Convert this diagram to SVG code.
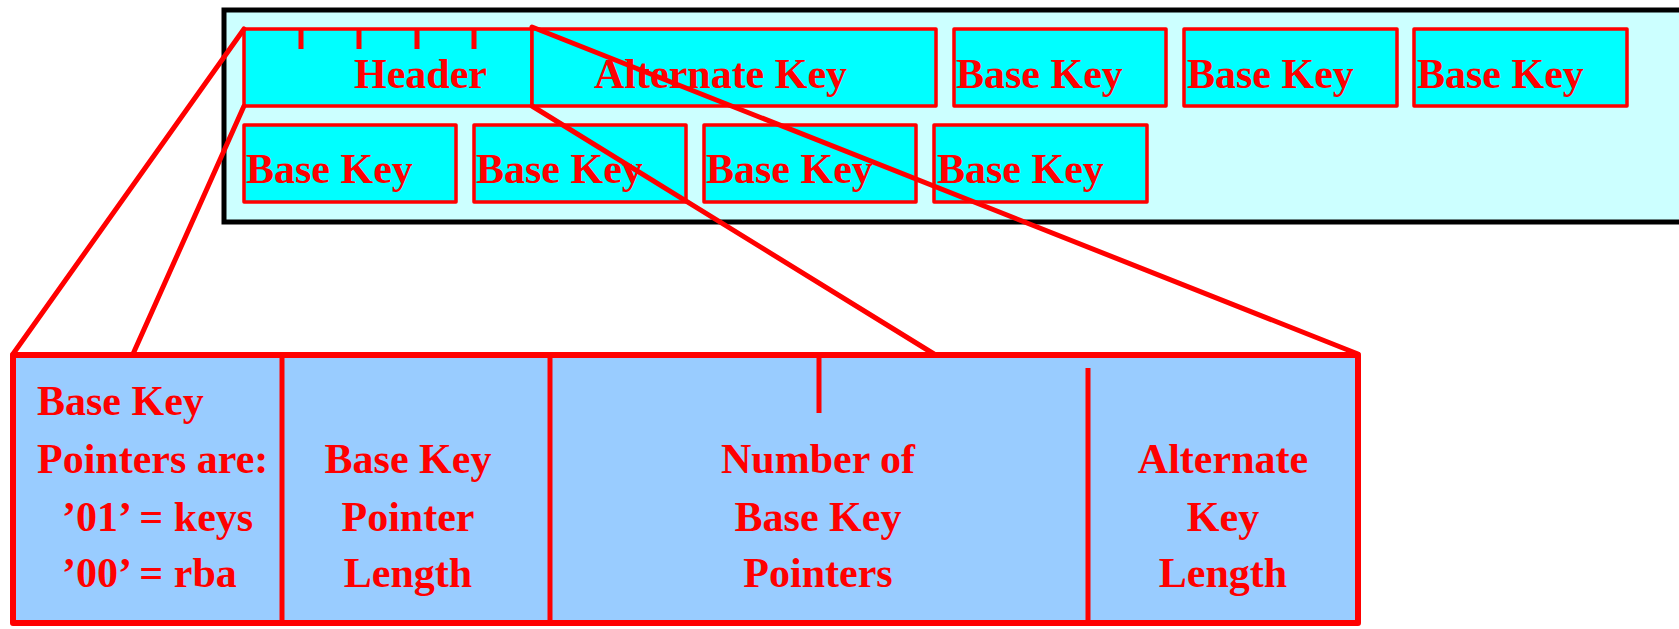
<svg xmlns="http://www.w3.org/2000/svg" width="1679" height="629" viewBox="0 0 1679 629">
<style>
.t{font-family:"Liberation Serif","Times New Roman",serif;font-weight:bold;font-size:42px;fill:#FF0000}
.c{text-anchor:middle}
.k{fill:#00FFFF;stroke:#FF0000;stroke-width:3.5;stroke-linejoin:round}
.ln{stroke:#FF0000;stroke-width:5;fill:none;stroke-linecap:round}
.dv{stroke:#FF0000;stroke-width:5;fill:none}
</style>
<rect width="1679" height="629" fill="#FFFFFF"/>
<g id="record">
<rect x="224" y="10" width="1470" height="212" fill="#CCFFFF" stroke="#000000" stroke-width="5"/>
</g>
<g id="header">
<rect class="k" x="244" y="29" width="288" height="77"/>
<path class="dv" d="M301 29V49M359 29V49M417 29V49M474 29V49" stroke-width="3.5"/>
<text class="t" x="354" y="88">Header</text>
</g>
<g id="altkey">
<rect class="k" x="532" y="29" width="404" height="77"/>
<text class="t" x="594" y="88">Alternate Key</text>
</g>
<g id="bk1"><rect class="k" x="954" y="29" width="212" height="77"/><text class="t" x="956" y="88">Base Key</text></g>
<g id="bk2"><rect class="k" x="1184" y="29" width="213" height="77"/><text class="t" x="1187" y="88">Base Key</text></g>
<g id="bk3"><rect class="k" x="1414" y="29" width="213" height="77"/><text class="t" x="1417" y="88">Base Key</text></g>
<g id="bk4"><rect class="k" x="244" y="125" width="212" height="77"/><text class="t" x="246" y="183">Base Key</text></g>
<g id="bk5"><rect class="k" x="474" y="125" width="212" height="77"/><text class="t" x="476" y="183">Base Key</text></g>
<g id="bk6"><rect class="k" x="704" y="125" width="212" height="77"/><text class="t" x="706" y="183">Base Key</text></g>
<g id="bk7"><rect class="k" x="934" y="125" width="213" height="77"/><text class="t" x="937" y="183">Base Key</text></g>
<g id="connectors">
<line class="ln" x1="244" y1="29" x2="13" y2="354"/>
<line class="ln" x1="244" y1="106" x2="133" y2="354"/>
<line class="ln" x1="532" y1="106" x2="934" y2="354"/>
<line class="ln" x1="532" y1="27" x2="1358" y2="354"/>
</g>
<g id="detail">
<rect x="13" y="355" width="1345" height="268" fill="#99CCFF" stroke="#FF0000" stroke-width="6" stroke-linejoin="round"/>
<line class="dv" x1="282" y1="355" x2="282" y2="623"/>
<line class="dv" x1="550" y1="355" x2="550" y2="623"/>
<line class="dv" x1="1088" y1="368" x2="1088" y2="626"/>
<line class="dv" x1="819" y1="355" x2="819" y2="413"/>
</g>
<g id="col1">
<text class="t" x="37" y="415">Base Key</text>
<text class="t" x="37" y="473">Pointers are:</text>
<text class="t" x="62" y="531">’01’ = keys</text>
<text class="t" x="62" y="587">’00’ = rba</text>
</g>
<g id="col2">
<text class="t c" x="408" y="473">Base Key</text>
<text class="t c" x="408" y="531">Pointer</text>
<text class="t c" x="408" y="587">Length</text>
</g>
<g id="col3">
<text class="t c" x="818" y="473">Number of</text>
<text class="t c" x="818" y="531">Base Key</text>
<text class="t c" x="818" y="587">Pointers</text>
</g>
<g id="col4">
<text class="t c" x="1223" y="473">Alternate</text>
<text class="t c" x="1223" y="531">Key</text>
<text class="t c" x="1223" y="587">Length</text>
</g>
</svg>
